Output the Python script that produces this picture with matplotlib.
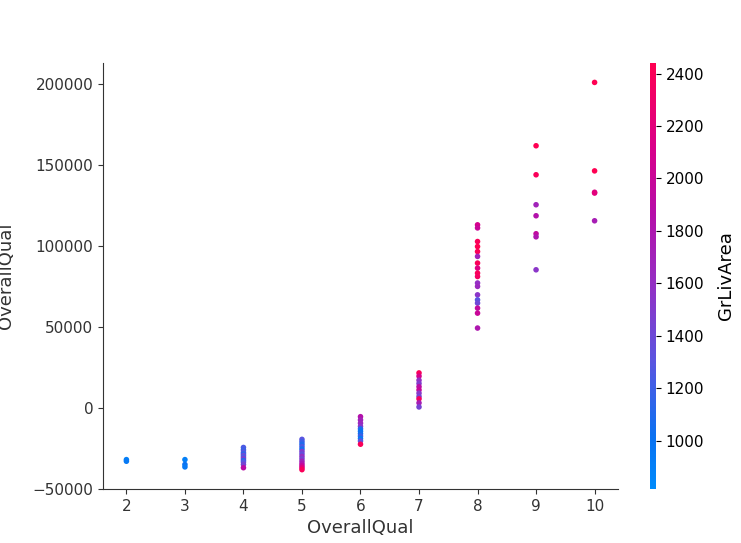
import matplotlib
matplotlib.use("Agg")
import matplotlib.pyplot as plt
import numpy as np
from matplotlib.colors import LinearSegmentedColormap, Normalize

# OverallQual values, SHAP values and GrLivArea (colour)
qual = [2, 2,
        3, 3, 3,
        4, 4, 4, 4, 4, 4, 4, 4, 4, 4, 4,
        5, 5, 5, 5, 5, 5, 5, 5, 5, 5, 5, 5, 5, 5,
        6, 6, 6, 6, 6, 6, 6, 6, 6, 6, 6,
        7, 7, 7, 7, 7, 7, 7, 7, 7, 7, 7,
        8, 8, 8, 8, 8, 8, 8, 8, 8, 8, 8, 8, 8, 8, 8, 8, 8, 8,
        9, 9, 9, 9, 9, 9, 9,
        10, 10, 10, 10, 10]
shap_vals = [-32000, -33000,
             -32000, -35000, -36500,
             -24500, -26000, -27500, -28500, -29500, -30500, -31500, -32500, -33500, -35000, -37000,
             -19500, -21000, -22500, -24000, -25500, -27000, -28500, -30000, -31500, -33000, -34500,
             -35800, -37000, -38200,
             -5500, -7500, -9500, -11500, -13000, -14500, -16000, -17500, -19000, -20500, -22500,
             21500, 19500, 17000, 15000, 13000, 11000, 9000, 7000, 5500, 3000, 500,
             112900, 111000, 102600, 99500, 96400, 93400, 89300, 86200, 83100, 81000, 77000, 74900,
             69700, 66600, 64600, 61500, 58400, 49200,
             161700, 143800, 125300, 118500, 107400, 105500, 85150,
             200800, 146200, 133000, 132500, 115400]
grliv = [900, 950,
         900, 1000, 950,
         1250, 1200, 1300, 1150, 1400, 1250, 1550, 1100, 1300, 1450, 1900,
         1300, 1200, 1100, 1250, 1050, 1500, 1350, 1600, 1450, 1700, 1800, 2000, 2200, 2400,
         1850, 1700, 1650, 1550, 1100, 1000, 1050, 1200, 950, 1300, 2400,
         2400, 2100, 1600, 1500, 1900, 2000, 1550, 1450, 2350, 1750, 1450,
         2100, 2000, 2400, 2450, 2400, 1700, 2400, 2150, 2400, 2350, 1600, 1650,
         1550, 1300, 1400, 1950, 2000, 1800,
         2450, 2400, 1700, 1850, 1950, 1800, 1550,
         2500, 2450, 2150, 2200, 1750]
cbar_ticks = [1000, 1200, 1400, 1600, 1800, 2000, 2200, 2400]

red_blue = LinearSegmentedColormap.from_list("red_blue", [
    (0.0, "#008bfb"), (0.12, "#0a72f2"), (0.30, "#5a55e0"), (0.48, "#9430c4"),
    (0.65, "#b60ea8"), (0.80, "#d8008a"), (1.0, "#ff0052")])
norm = Normalize(vmin=816, vmax=2440, clip=True)

fig = plt.figure(figsize=(7.41, 5.43), dpi=100)
ax = fig.add_axes([0.139, 0.0994, 0.695, 0.7845])
cax = fig.add_axes([650 / 741, 0.0994, 6 / 741, 0.7845])

sc = ax.scatter(qual, shap_vals, c=grliv, cmap=red_blue, norm=norm, s=16, linewidth=0)

grey = "#333333"
ax.set_xlabel("OverallQual", fontsize=13, color=grey)
# first line falls off the left edge, as in the original figure
ax.set_ylabel("SHAP value for\nOverallQual", fontsize=13, color=grey)
ax.yaxis.set_label_coords(-0.170, 0.5)
ax.spines["top"].set_visible(False)
ax.spines["right"].set_visible(False)
ax.spines["left"].set_color(grey)
ax.spines["bottom"].set_color(grey)
ax.tick_params(labelsize=11, color=grey, labelcolor=grey)
ax.set_xticks(range(2, 11))

cb = fig.colorbar(sc, cax=cax, ticks=cbar_ticks)
cb.outline.set_visible(False)
cb.ax.tick_params(labelsize=11)
cb.set_label("GrLivArea", fontsize=13, labelpad=9)

fig.savefig("out.png", dpi=100)
